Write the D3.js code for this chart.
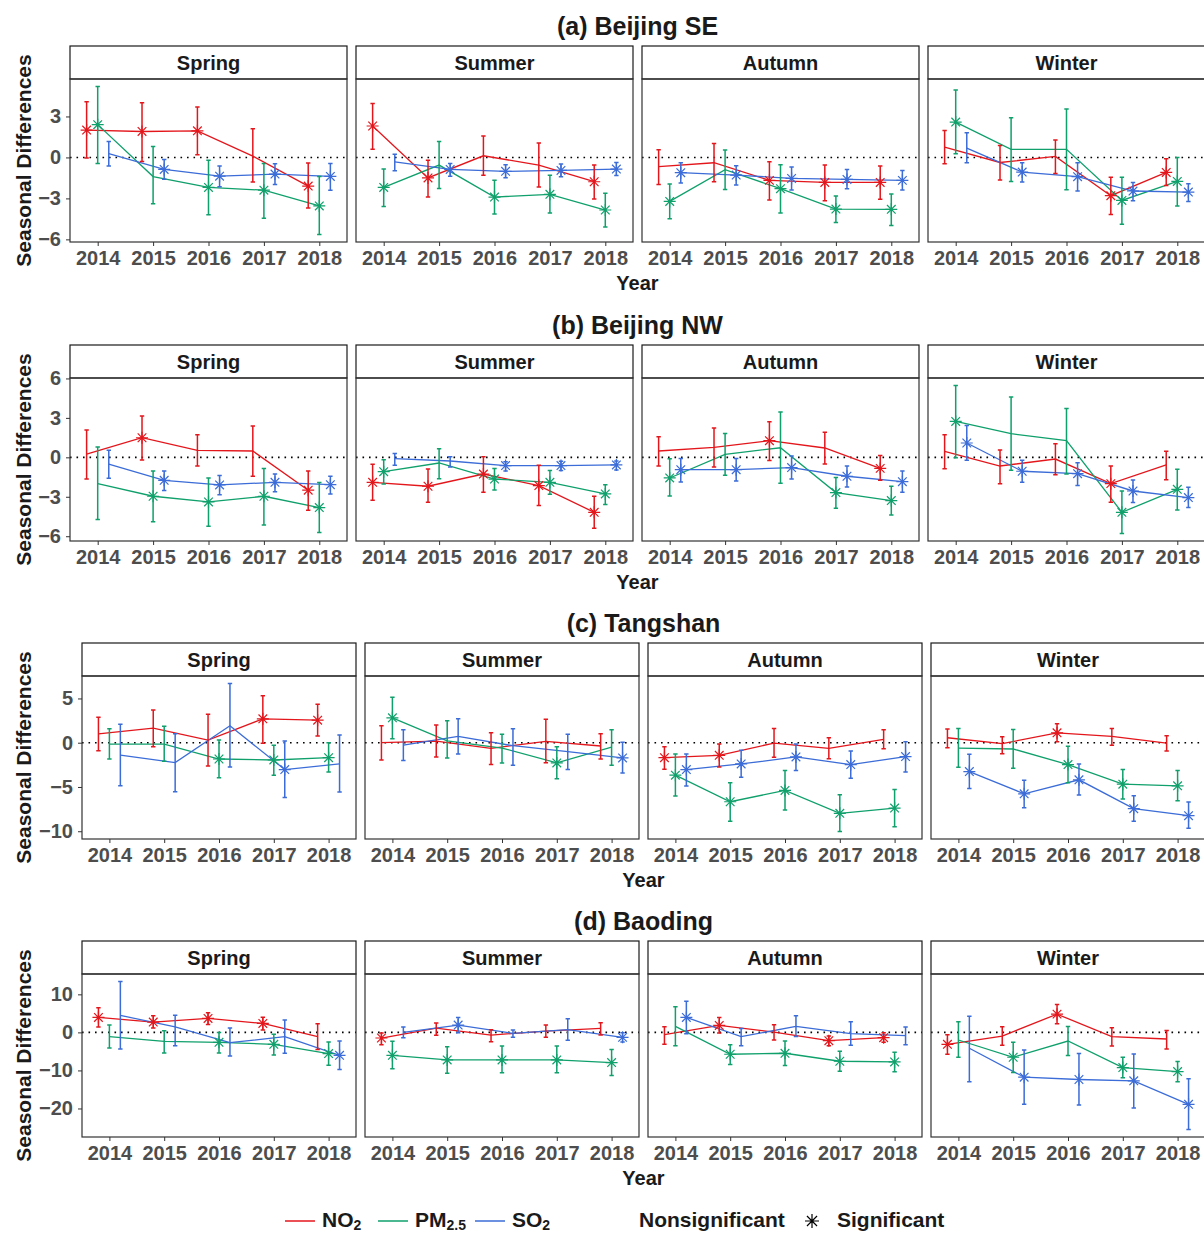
<!DOCTYPE html>
<html>
<head>
<meta charset="utf-8">
<script src="https://cdn.jsdelivr.net/npm/d3@7"></script>
<style>
  body { margin: 0; background: #fff; }
  svg text { font-family: "Liberation Sans", Arial, sans-serif; font-weight: bold; }
</style>
</head>
<body>
<svg id="chart" width="1204" height="1233"></svg>
<script>
// categories
var years = [2014, 2015, 2016, 2017, 2018];
var seasons = ["Spring", "Summer", "Autumn", "Winter"];
var pollutants = ["NO2", "PM2.5", "SO2"];
var sites = ["(a) Beijing SE", "(b) Beijing NW", "(c) Tangshan", "(d) Baoding"];
var yTicks = [[-6, -3, 0, 3], [-6, -3, 0, 3, 6], [-10, -5, 0, 5], [-20, -10, 0, 10]];

// values are [season][pollutant][year], pollutant order NO2, PM2.5, SO2
var bjseValue = [
  [[2.0, 1.9, 1.95, 0.1, -2.1], [2.4, -1.4, -2.2, -2.4, -3.55], [0.27, -0.88, -1.37, -1.22, -1.39]],
  [[2.3, -1.5, 0.12, -0.56, -1.78], [-2.2, -0.56, -2.9, -2.7, -3.85], [-0.32, -0.88, -1.02, -0.95, -0.85]],
  [[-0.68, -0.39, -1.68, -1.83, -1.83], [-3.22, -0.9, -2.29, -3.78, -3.8], [-1.12, -1.29, -1.54, -1.61, -1.68]],
  [[0.76, -0.37, 0.07, -2.8, -1.1], [2.59, 0.59, 0.59, -3.15, -1.76], [0.68, -1.07, -1.41, -2.46, -2.54]]
];
var bjseLower = [
  [[-0.05, -0.3, 0.2, -1.8, -3.7], [-0.45, -3.4, -4.2, -4.45, -5.65], [-0.63, -1.6, -2.15, -1.98, -2.4]],
  [[0.6, -2.9, -1.3, -2.17, -3.05], [-3.6, -2.27, -4.15, -4.07, -5.1], [-0.98, -1.37, -1.49, -1.41, -1.32]],
  [[-1.98, -1.78, -3.12, -3.17, -3.07], [-4.49, -2.34, -4.07, -4.76, -4.98], [-1.88, -2.02, -2.39, -2.29, -2.39]],
  [[-0.46, -1.66, -1.17, -4.17, -2.05], [0.27, -1.76, -2.37, -4.9, -3.56], [-0.39, -1.8, -2.46, -3.17, -3.22]]
];
var bjseUpper = [
  [[4.07, 4.0, 3.7, 2.1, -0.4], [5.2, 0.8, -0.2, -0.45, -1.4], [1.17, -0.15, -0.63, -0.46, -0.44]],
  [[3.95, -0.2, 1.56, 1.05, -0.56], [-0.85, 1.17, -1.68, -1.3, -2.63], [0.24, -0.44, -0.54, -0.49, -0.37]],
  [[0.56, 1.02, -0.32, -0.56, -0.63], [-1.95, 0.54, -0.54, -2.83, -2.68], [-0.39, -0.61, -0.71, -0.88, -0.95]],
  [[1.98, 0.88, 1.27, -1.46, -0.1], [4.93, 2.9, 3.54, -1.46, 0], [1.8, -0.39, -0.39, -1.83, -1.93]]
];
var bjseSig = [
  [[1, 1, 1, 0, 1], [1, 0, 1, 1, 1], [0, 1, 1, 1, 1]],
  [[1, 1, 0, 0, 1], [1, 0, 1, 1, 1], [0, 1, 1, 1, 1]],
  [[0, 0, 1, 1, 1], [1, 0, 1, 1, 1], [1, 1, 1, 1, 1]],
  [[0, 0, 0, 1, 1], [1, 0, 0, 1, 1], [0, 1, 1, 1, 1]]
];

var bjnwValue = [
  [[0.25, 1.49, 0.53, 0.48, -2.5], [-2.0, -2.96, -3.39, -2.96, -3.82], [-0.51, -1.75, -2.1, -1.9, -2.08]],
  [[-1.9, -2.2, -1.27, -2.15, -4.18], [-1.09, -0.43, -1.65, -1.9, -2.78], [-0.1, -0.28, -0.63, -0.63, -0.58]],
  [[0.48, 0.76, 1.27, 0.71, -0.84], [-1.57, 0.23, 0.73, -2.68, -3.29], [-0.94, -0.94, -0.78, -1.44, -1.85]],
  [[0.46, -0.66, -0.13, -2.0, -0.58], [2.73, 1.8, 1.27, -4.18, -2.43], [1.09, -1.06, -1.24, -2.56, -3.06]]
];
var bjnwLower = [
  [[-1.65, -0.2, -0.66, -1.44, -4.03], [-4.73, -4.89, -5.24, -5.14, -5.72], [-1.6, -2.53, -2.84, -2.61, -2.78]],
  [[-3.27, -3.42, -2.66, -3.67, -5.39], [-2.03, -1.62, -2.48, -2.81, -3.59], [-0.61, -0.73, -1.04, -1.01, -0.96]],
  [[-0.66, -0.73, -0.25, -0.51, -1.75], [-2.94, -1.37, -1.97, -3.87, -4.38], [-1.87, -1.8, -1.65, -2.25, -2.66]],
  [[-0.86, -2.0, -1.32, -3.42, -1.7], [-0.03, -0.99, -1.27, -5.8, -4.0], [-0.23, -1.9, -2.15, -3.44, -3.82]]
];
var bjnwUpper = [
  [[2.08, 3.14, 1.72, 2.38, -1.04], [0.78, -1.04, -1.57, -0.84, -1.92], [0.53, -1.04, -1.39, -1.27, -1.44]],
  [[-0.53, -0.89, 0.05, -0.61, -2.96], [-0.18, 0.66, -0.84, -1.01, -2.08], [0.3, 0.05, -0.33, -0.3, -0.28]],
  [[1.57, 2.23, 2.71, 1.9, 0.13], [-0.1, 1.82, 3.44, -1.54, -2.2], [-0.08, -0.08, 0.1, -0.66, -1.04]],
  [[1.72, 0.56, 1.04, -0.66, 0.46], [5.47, 4.58, 3.72, -2.56, -0.91], [2.43, -0.23, -0.41, -1.72, -2.28]]
];
var bjnwSig = [
  [[0, 1, 0, 0, 1], [0, 1, 1, 1, 1], [0, 1, 1, 1, 1]],
  [[1, 1, 1, 1, 1], [1, 0, 1, 1, 1], [0, 0, 1, 1, 1]],
  [[0, 0, 1, 0, 1], [1, 0, 0, 1, 1], [1, 1, 1, 1, 1]],
  [[0, 0, 0, 1, 0], [1, 0, 0, 1, 1], [1, 1, 1, 1, 1]]
];

var tsValue = [
  [[1.01, 1.65, 0.3, 2.7, 2.55], [-0.15, -0.15, -1.84, -1.95, -1.69], [-1.39, -2.25, 1.91, -3.03, -2.4]],
  [[0, 0.19, -0.64, 0.15, -0.37], [2.81, 0.22, -0.6, -2.28, -0.49], [-0.26, 0.71, -0.34, -1.01, -1.72]],
  [[-1.69, -1.42, -0.04, -0.64, 0.37], [-3.67, -6.67, -5.39, -7.98, -7.38], [-3.03, -2.4, -1.61, -2.47, -1.57]],
  [[0.56, -0.11, 1.12, 0.71, -0.04], [-0.6, -0.71, -2.47, -4.68, -4.87], [-3.26, -5.77, -4.19, -7.45, -8.24]]
];
var tsLower = [
  [[-0.9, -0.45, -2.62, -0.07, 0.75], [-1.84, -2.1, -3.97, -3.67, -3.3], [-4.87, -5.54, -2.73, -6.18, -5.58]],
  [[-1.95, -1.61, -2.47, -2.25, -1.84], [0.45, -1.72, -2.28, -4.08, -2.55], [-2.02, -1.27, -2.55, -3.03, -3.41]],
  [[-3.0, -2.73, -1.65, -1.8, -0.67], [-6.03, -8.88, -7.6, -10.04, -9.48], [-4.9, -3.9, -3.15, -4.0, -3.3]],
  [[-0.56, -1.24, 0.11, -0.3, -0.94], [-2.77, -2.88, -4.53, -6.37, -6.55], [-5.17, -7.34, -5.92, -8.88, -9.66]]
];
var tsUpper = [
  [[2.88, 3.7, 3.22, 5.3, 4.34], [1.57, 1.87, 0.3, -0.3, 0], [2.1, 1.01, 6.7, 0.19, 0.86]],
  [[1.91, 1.99, 1.12, 2.66, 1.01], [5.13, 2.47, 0.97, -0.45, 1.46], [1.46, 2.7, 1.57, 0.97, 0.04]],
  [[-0.45, -0.15, 1.61, 0.56, 1.46], [-1.27, -4.53, -3.15, -5.88, -5.28], [-1.27, -0.86, -0.15, -0.94, 0.11]],
  [[1.54, 0.67, 2.13, 1.61, 0.79], [1.61, 1.5, -0.41, -3.03, -3.15], [-1.31, -4.23, -2.4, -6.0, -6.7]]
];
var tsSig = [
  [[0, 0, 0, 1, 1], [0, 0, 1, 1, 1], [0, 0, 0, 1, 0]],
  [[0, 0, 0, 0, 0], [1, 0, 0, 1, 0], [0, 0, 0, 0, 1]],
  [[1, 1, 0, 0, 0], [1, 1, 1, 1, 1], [1, 1, 1, 1, 1]],
  [[0, 0, 1, 0, 0], [0, 0, 1, 1, 1], [1, 1, 1, 1, 1]]
];

var bdValue = [
  [[3.92, 2.7, 3.66, 2.35, -1.13], [-1.13, -2.35, -2.62, -3.14, -5.58], [4.45, 1.48, -2.7, -1.13, -6.02]],
  [[-1.48, 1.13, -0.7, 0.35, 1.05], [-6.02, -7.24, -7.24, -7.24, -7.93], [0, 1.92, -0.26, 0.7, -1.31]],
  [[-0.61, 1.83, 0.09, -2.18, -1.39], [1.57, -5.75, -5.49, -7.59, -7.76], [3.92, -1.13, 1.57, -0.35, -0.87]],
  [[-3.14, -0.96, 4.8, -1.13, -1.74], [-2.0, -6.54, -2.27, -9.24, -10.29], [-4.18, -11.77, -12.38, -12.73, -18.92]]
];
var bdLower = [
  [[1.39, 1.13, 2.09, 0.61, -4.53], [-4.1, -5.4, -5.4, -5.93, -8.63], [-4.36, -3.49, -6.19, -5.49, -9.76]],
  [[-3.23, -0.78, -2.44, -1.31, -0.7], [-9.59, -10.72, -10.64, -10.64, -11.33], [-1.39, -0.09, -1.31, -2.09, -2.53]],
  [[-3.14, -0.17, -2.0, -3.49, -2.62], [-3.49, -8.46, -8.72, -10.2, -10.37], [-0.35, -3.49, -1.05, -3.4, -3.23]],
  [[-5.75, -3.4, 2.27, -3.57, -4.36], [-6.54, -10.55, -6.1, -11.94, -12.99], [-12.99, -18.92, -19.09, -19.88, -25.55]]
];
var bdUpper = [
  [[6.45, 4.36, 5.14, 4.01, 2.27], [1.92, 0.44, 0, -0.52, -2.53], [13.4, 4.53, 1.13, 3.23, -2.27]],
  [[-0.17, 2.44, 0.7, 1.92, 2.53], [-2.35, -3.75, -3.57, -3.57, -4.53], [1.39, 3.92, 0.61, 3.57, -0.09]],
  [[1.48, 3.92, 2.0, -0.96, -0.09], [6.71, -3.23, -2.27, -4.97, -5.23], [8.2, 1.05, 4.36, 2.79, 1.39]],
  [[-0.61, 1.48, 7.32, 1.22, 0.52], [2.79, -2.62, 1.57, -6.54, -7.67], [4.27, -4.62, -5.58, -5.67, -12.21]]
];
var bdSig = [
  [[1, 1, 1, 1, 0], [0, 0, 1, 1, 1], [0, 0, 0, 0, 1]],
  [[1, 0, 0, 0, 0], [1, 1, 1, 1, 1], [0, 1, 0, 0, 1]],
  [[0, 1, 0, 1, 1], [0, 1, 1, 1, 1], [1, 0, 0, 0, 0]],
  [[1, 0, 1, 0, 0], [0, 1, 0, 1, 1], [0, 1, 1, 1, 1]]
];

var siteData = [
  {value: bjseValue, lower: bjseLower, upper: bjseUpper, sig: bjseSig},
  {value: bjnwValue, lower: bjnwLower, upper: bjnwUpper, sig: bjnwSig},
  {value: tsValue, lower: tsLower, upper: tsUpper, sig: tsSig},
  {value: bdValue, lower: bdLower, upper: bdUpper, sig: bdSig}
];

// layout
var rowTop = [46, 345, 643, 941],
    leftEdge = [70, 70, 82, 82],
    rightEdge = 1205, stripH = 33, panelH = 163, gap = 9;

var colors = d3.scaleOrdinal().domain(pollutants).range(["#E3161C", "#0FA06C", "#3B6CD7"]);
var dodge = d3.scaleOrdinal().domain(pollutants).range([-0.2, 0, 0.2]);

var svg = d3.select("#chart");

// 8 armed asterisk (ggplot shape 8)
function star(cx, cy, a) {
  a = a || 6;
  var b = a * 0.72;
  return "M" + (cx - a) + "," + cy + "H" + (cx + a) +
         "M" + cx + "," + (cy - a) + "V" + (cy + a) +
         "M" + (cx - b) + "," + (cy - b) + "L" + (cx + b) + "," + (cy + b) +
         "M" + (cx - b) + "," + (cy + b) + "L" + (cx + b) + "," + (cy - b);
}

sites.forEach(function(site, r) {
  var d = siteData[r];
  var top = rowTop[r] + stripH, bottom = top + panelH;
  var x0 = leftEdge[r], fw = (rightEdge - x0 - 3 * gap) / 4;

  // shared y scale for the row, padded like ggplot
  var all = d3.merge(d.lower.map(function(s) { return d3.merge(s); }))
    .concat(d3.merge(d.upper.map(function(s) { return d3.merge(s); })));
  var ext = d3.extent(all), pad = (ext[1] - ext[0]) * 0.05;
  var y = d3.scaleLinear().domain([ext[0] - pad, ext[1] + pad]).range([bottom, top]);

  var g = svg.append("g");

  //row title
  g.append("text")
    .attr("x", (x0 + rightEdge) / 2)
    .attr("y", rowTop[r] - 11)
    .attr("text-anchor", "middle")
    .attr("font-size", 25)
    .attr("fill", "#1a1a1a")
    .text(site);

  //y axis title
  g.append("text")
    .attr("transform", "translate(31," + ((top + bottom) / 2) + ") rotate(-90)")
    .attr("text-anchor", "middle")
    .attr("font-size", 21)
    .attr("fill", "#1a1a1a")
    .text("Seasonal Differences");

  //x axis title
  g.append("text")
    .attr("x", (x0 + rightEdge) / 2)
    .attr("y", bottom + 48)
    .attr("text-anchor", "middle")
    .attr("font-size", 20)
    .attr("fill", "#1a1a1a")
    .text("Year");

  seasons.forEach(function(season, s) {
    var fx = x0 + s * (fw + gap);
    var x = d3.scaleLinear().domain([2013.5, 2018.5]).range([fx, fx + fw]);

    //strip
    g.append("rect")
      .attr("x", fx).attr("y", rowTop[r])
      .attr("width", fw).attr("height", stripH)
      .attr("fill", "#fff").attr("stroke", "#1a1a1a").attr("stroke-width", 1.2);
    g.append("text")
      .attr("x", fx + fw / 2).attr("y", rowTop[r] + 24)
      .attr("text-anchor", "middle")
      .attr("font-size", 20)
      .attr("fill", "#1a1a1a")
      .text(season);

    //zero reference line
    g.append("line")
      .attr("x1", fx).attr("x2", fx + fw)
      .attr("y1", y(0)).attr("y2", y(0))
      .attr("stroke", "#000").attr("stroke-width", 1.6)
      .attr("stroke-dasharray", "1.6,4.9");

    //x axis
    g.append("g")
      .attr("transform", "translate(0," + bottom + ")")
      .call(d3.axisBottom(x).tickValues(years).tickFormat(d3.format("d")).tickSize(4).tickPadding(5))
      .call(function(a) {
        a.select(".domain").remove();
        a.selectAll("line").attr("stroke", "#333");
        a.selectAll("text").attr("font-size", 20).attr("fill", "#4D4D4D");
      });

    //y axis on the first facet only
    if (s === 0) {
      g.append("g")
        .attr("transform", "translate(" + fx + ",0)")
        .call(d3.axisLeft(y).tickValues(yTicks[r]).tickSize(4).tickPadding(5))
        .call(function(a) {
          a.select(".domain").remove();
          a.selectAll("line").attr("stroke", "#333");
          a.selectAll("text").attr("font-size", 20).attr("fill", "#4D4D4D");
        });
    }

    var series = pollutants.map(function(p, k) {
      return years.map(function(yr, i) {
        return {
          p: p,
          x: x(yr + dodge(p)),
          v: y(d.value[s][k][i]),
          lo: y(d.lower[s][k][i]),
          hi: y(d.upper[s][k][i]),
          sig: d.sig[s][k][i]
        };
      });
    });

    var line = d3.line().x(function(e) { return e.x; }).y(function(e) { return e.v; });

    //lines
    series.forEach(function(pts) {
      g.append("path")
        .attr("d", line(pts))
        .attr("fill", "none")
        .attr("stroke", colors(pts[0].p))
        .attr("stroke-width", 1.3);
    });

    //error bars
    series.forEach(function(pts) {
      g.append("g").selectAll("path")
        .data(pts)
        .enter()
        .append("path")
        .attr("d", function(e) {
          return "M" + (e.x - 2.2) + "," + e.hi + "H" + (e.x + 2.2) +
                 "M" + e.x + "," + e.hi + "V" + e.lo +
                 "M" + (e.x - 2.2) + "," + e.lo + "H" + (e.x + 2.2);
        })
        .attr("fill", "none")
        .attr("stroke", colors(pts[0].p))
        .attr("stroke-width", 1.5);
    });

    //significance markers
    series.forEach(function(pts) {
      g.append("g").selectAll("path")
        .data(pts.filter(function(e) { return e.sig; }))
        .enter()
        .append("path")
        .attr("d", function(e) { return star(e.x, e.v); })
        .attr("fill", "none")
        .attr("stroke", colors(pts[0].p))
        .attr("stroke-width", 1.2);
    });

    //panel border
    g.append("rect")
      .attr("x", fx).attr("y", top)
      .attr("width", fw).attr("height", panelH)
      .attr("fill", "none").attr("stroke", "#333").attr("stroke-width", 1.2);
  });
});

//legend
var legendY = 1221;
var legendPos = [285, 378, 475];
var legendSub = [["NO", "2"], ["PM", "2.5"], ["SO", "2"]];
var legend = svg.append("g");
pollutants.forEach(function(p, k) {
  var lx = legendPos[k];
  legend.append("line")
    .attr("x1", lx).attr("x2", lx + 30)
    .attr("y1", legendY).attr("y2", legendY)
    .attr("stroke", colors(p)).attr("stroke-width", 1.5);
  var t = legend.append("text")
    .attr("x", lx + 37).attr("y", legendY + 6)
    .attr("font-size", 21)
    .attr("fill", "#1a1a1a");
  t.append("tspan").text(legendSub[k][0]);
  t.append("tspan").attr("font-size", 14).attr("dy", 3).text(legendSub[k][1]);
});
legend.append("text")
  .attr("x", 639).attr("y", legendY + 6)
  .attr("font-size", 21).attr("fill", "#1a1a1a")
  .text("Nonsignificant");
legend.append("path")
  .attr("d", star(812, legendY, 7))
  .attr("fill", "none").attr("stroke", "#000").attr("stroke-width", 1.2);
legend.append("text")
  .attr("x", 837).attr("y", legendY + 6)
  .attr("font-size", 21).attr("fill", "#1a1a1a")
  .text("Significant");
</script>
</body>
</html>
